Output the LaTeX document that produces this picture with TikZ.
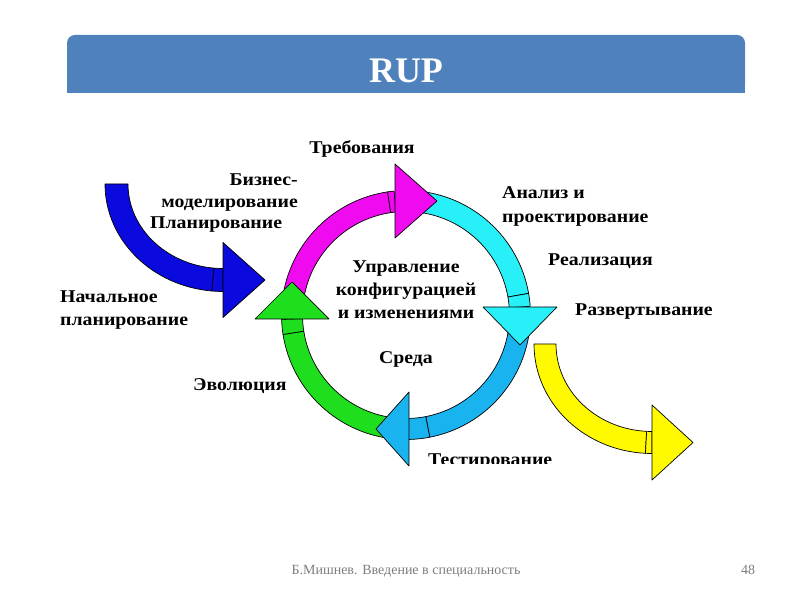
\documentclass[tikz,border=0pt]{standalone}
\usepackage{fontspec}
\setmainfont{Liberation Serif}
\newfontfamily\lblfont[FakeStretch=1.1]{Liberation Serif}
\definecolor{titleblue}{RGB}{79,129,189}
\definecolor{ringpink}{RGB}{240,10,240}
\definecolor{ringcyan}{RGB}{40,240,248}
\definecolor{ringblue}{RGB}{25,180,240}
\definecolor{ringgreen}{RGB}{30,222,30}
\definecolor{inblue}{RGB}{10,10,222}
\definecolor{outyellow}{RGB}{255,250,0}
\definecolor{footgray}{RGB}{125,125,125}
\begin{document}
\begin{tikzpicture}[x=1pt,y=1pt,line join=round,
	lbl/.style={font=\lblfont\bfseries\fontsize{18}{22}\selectfont,inner sep=0pt},
	edge/.style={draw=black,line width=0.7pt}]
	\useasboundingbox (0,0) rectangle (800,600);
	\def\cx{406} \def\cy{285} \def\rr{114} \def\hw{10.5} % vong tron
	% #1,#2 tam, #3,#4 ban kinh, #5 nua be rong, #6 -> #7 goc, #8 mau
	\def\band#1#2#3#4#5#6#7#8{%
		\pgfmathsetmacro\Rx{#3+#5}\pgfmathsetmacro\Ry{#4+#5}%
		\pgfmathsetmacro\rx{#3-#5}\pgfmathsetmacro\ry{#4-#5}%
		\filldraw[edge,fill=#8] ({#1+\Rx*cos(#6)},{#2+\Ry*sin(#6)})
		arc[start angle=#6,end angle=#7,x radius=\Rx,y radius=\Ry]
		-- ({#1+\rx*cos(#7)},{#2+\ry*sin(#7)})
		arc[start angle=#7,end angle=#6,x radius=\rx,y radius=\ry] -- cycle;}
	% tieu de
	\fill[titleblue,rounded corners=8] (67,507) rectangle (745,565);
	\fill[titleblue] (67,507) rectangle (745,530);
	\node[font=\bfseries\fontsize{36}{40}\selectfont,text=white,anchor=base] (title) at (406,517) {RUP};
	% mui ten vao va ra
	\band{223}{416}{106.5}{96}{11.5}{180}{264.6}{inblue}
	\band{223}{416}{106.5}{96}{11.5}{264.6}{270}{inblue}
	\filldraw[edge,fill=inblue] (223,357.5) -- (223,282.5) -- (265,320) -- cycle;
	\band{652}{256}{107}{98.5}{11}{180}{266.8}{outyellow}
	\band{652}{256}{107}{98.5}{11}{266.8}{270}{outyellow}
	\filldraw[edge,fill=outyellow] (652,195) -- (652,120) -- (693,157.5) -- cycle;
	% vong
	\band{\cx}{\cy}{\rr}{\rr}{\hw}{176}{98.5}{ringpink}
	\band{\cx}{\cy}{\rr}{\rr}{\hw}{98.5}{95.5}{ringpink}
	\band{\cx}{\cy}{\rr}{\rr}{\hw}{86}{10}{ringcyan}
	\band{\cx}{\cy}{\rr}{\rr}{\hw}{10}{4}{ringcyan}
	\band{\cx}{\cy}{\rr}{\rr}{\hw}{-4}{-79}{ringblue}
	\band{\cx}{\cy}{\rr}{\rr}{\hw}{-79}{-89}{ringblue}
	\band{\cx}{\cy}{\rr}{\rr}{\hw}{266}{189}{ringgreen}
	\band{\cx}{\cy}{\rr}{\rr}{\hw}{189}{182}{ringgreen}
	\filldraw[edge,fill=ringpink] (395,362) -- (395,436) -- (437,399) -- cycle;
	\filldraw[edge,fill=ringcyan] (483,293) -- (557,293) -- (520,255) -- cycle;
	\filldraw[edge,fill=ringblue] (409,208) -- (409,134) -- (376,171) -- cycle;
	\filldraw[edge,fill=ringgreen] (255,281) -- (329,281) -- (292,318) -- cycle;
	% nhan
	\node[lbl,anchor=base] (req) at (362,446) {Требования};
	\node[lbl,anchor=base east] (bm1) at (298,414) {Бизнес-};
	\node[lbl,anchor=base east] (bm2) at (298,392) {моделирование};
	\node[lbl,anchor=base west] (plan) at (150,371) {Планирование};
	\node[lbl,anchor=base west] (init1) at (60,297) {Начальное};
	\node[lbl,anchor=base west] (init2) at (60,274) {планирование};
	\node[lbl,anchor=base] (cfg1) at (406,327) {Управление};
	\node[lbl,anchor=base] (cfg2) at (406,304) {конфигурацией};
	\node[lbl,anchor=base] (cfg3) at (406,281) {и изменениями};
	\node[lbl,anchor=base] (env) at (406,236) {Среда};
	\node[lbl,anchor=base west] (ana1) at (502,401) {Анализ и};
	\node[lbl,anchor=base west] (ana2) at (502,377) {проектирование};
	\node[lbl,anchor=base west] (impl) at (548,334) {Реализация};
	\node[lbl,anchor=base west] (depl) at (575,284) {Развертывание};
	\node[lbl,anchor=base west] (evol) at (193,209) {Эволюция};
	\begin{scope}
		\clip (400,137) rectangle (600,165);
		\node[lbl,anchor=base west] (test) at (428,135) {Тестирование};
	\end{scope}
	% chan trang
	\node[font=\fontsize{14}{16}\selectfont,text=footgray,anchor=base west] (foot) at (288,26) {Б.Мишнев. Введение в специальность};
	\node[font=\fontsize{14}{16}\selectfont,text=footgray,anchor=base] (page) at (748,26) {48};
\end{tikzpicture}
\end{document}
